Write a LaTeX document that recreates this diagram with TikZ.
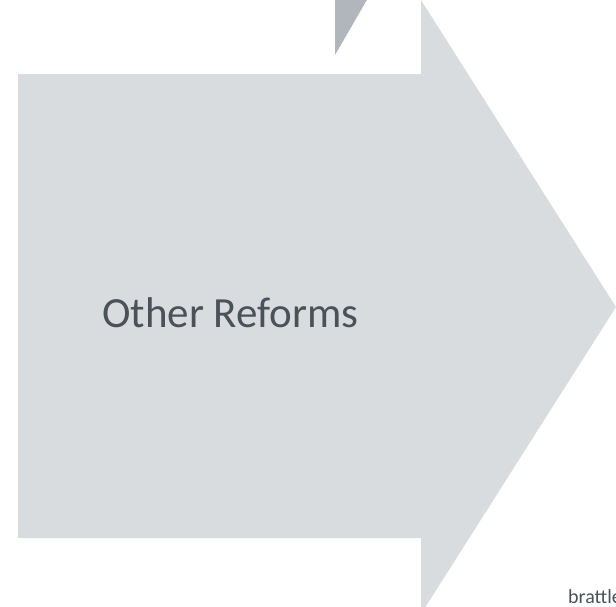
\documentclass[tikz,border=0pt]{standalone}
\usepackage{fontspec}
\setmainfont{Carlito}
\usepackage{tikz}
\usetikzlibrary{calc}

\definecolor{panelgrey}{HTML}{D9DCDF}
\definecolor{tabgrey}{HTML}{B1B5BC}
\definecolor{inkgrey}{HTML}{4B5159}

\begin{document}
\begin{tikzpicture}[x=1pt,y=-1pt,
  label text/.style={text=inkgrey,inner sep=0pt,font=\fontsize{43}{50}\selectfont},
  logo text/.style={text=inkgrey,inner sep=0pt,font=\fontsize{20}{24}\selectfont}]

  \useasboundingbox (0,0) rectangle (616,606);
  \clip (0,0) rectangle (616,606);

  % big arrow and the tab of the shape behind it
  \fill[tabgrey] (335,-2) -- (368,-2) -- (335,55) -- cycle;
  \fill[panelgrey] (18,74) -- (421,74) -- (421,0) -- (616,307)
    -- (421,614) -- (421,538) -- (18,538) -- cycle;

  \node[label text,anchor=base west] (reforms) at (102,327) {Other Reforms};
  \node[logo text,anchor=base west] (brand) at (568,603) {brattle};
\end{tikzpicture}
\end{document}
